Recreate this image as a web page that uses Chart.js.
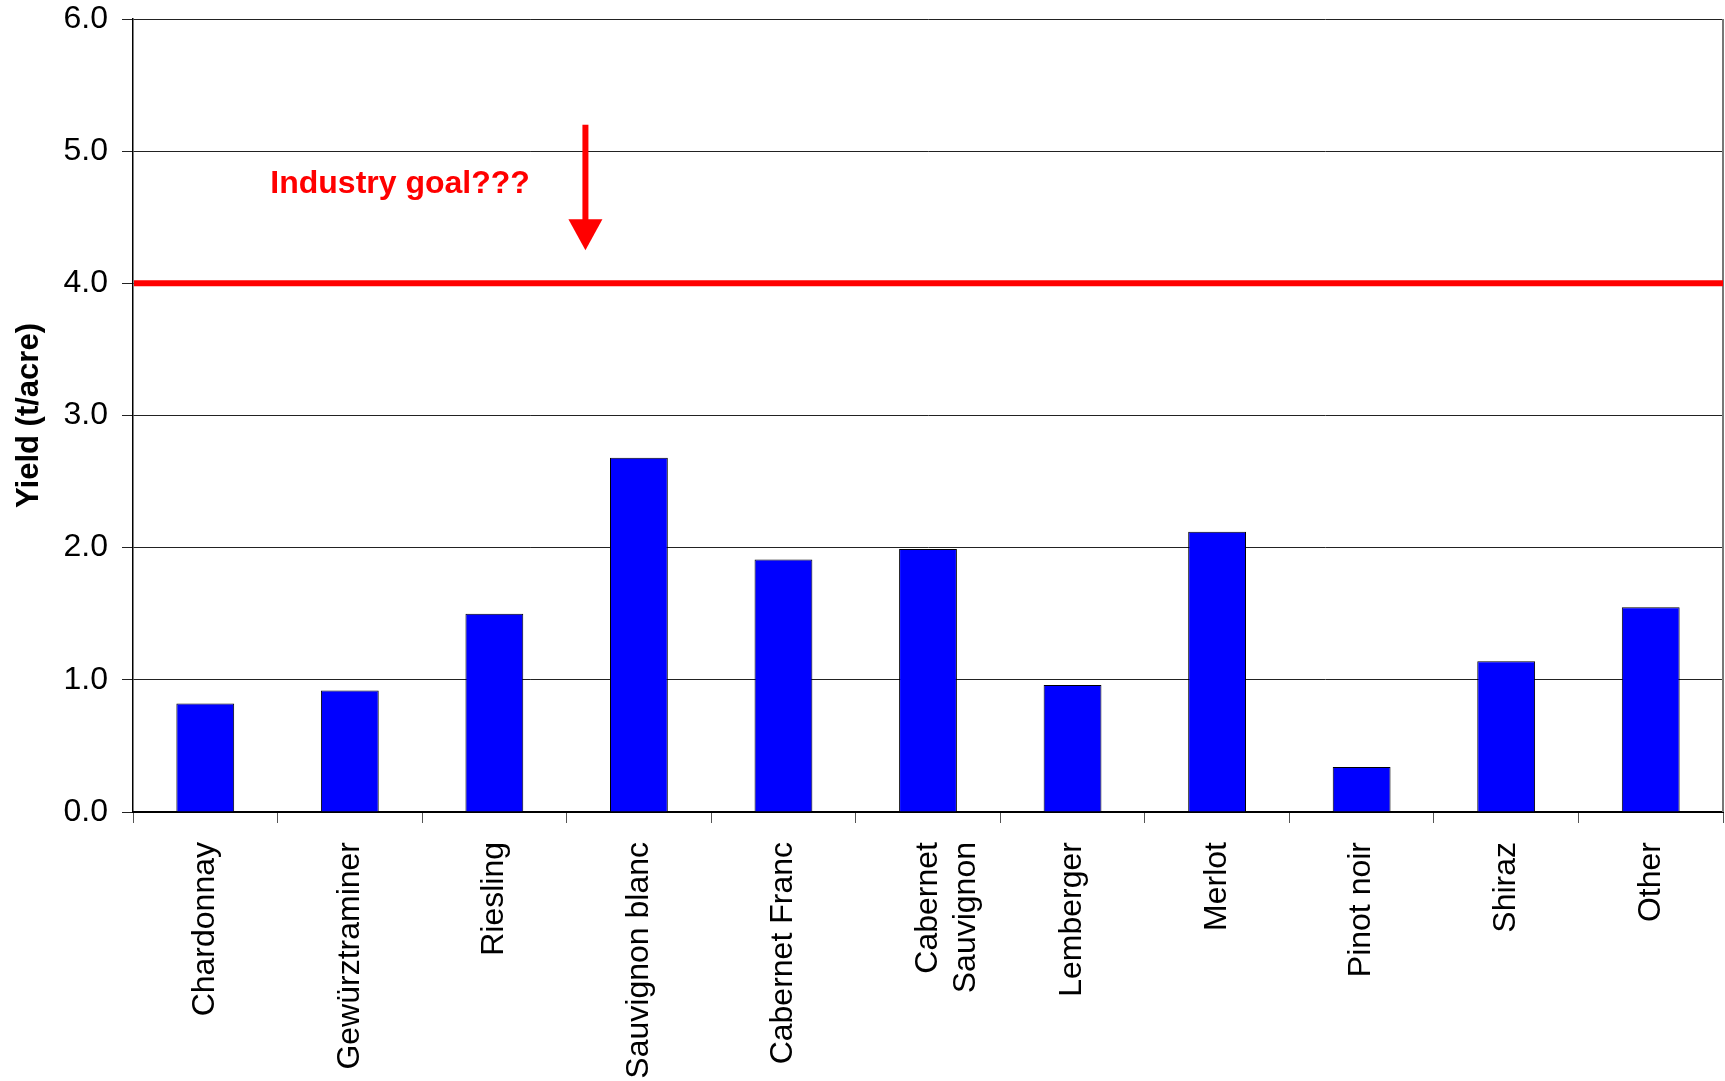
<!DOCTYPE html>
<html lang="en">
<head>
    <meta charset="UTF-8">
    <title>Yield by variety</title>
    <script src="https://cdn.jsdelivr.net/npm/chart.js"></script>
    <style>
        body {
            margin: 0;
            background: #fff;
        }
        .container {
            width: 1725px;
            height: 1081px;
        }
    </style>
</head>
<body>

    <div class="container">
        <canvas id="yieldChart"></canvas>
    </div>

    <script>
        // varieties, with Cabernet Sauvignon split over two lines as in the original
        const varieties = ["Chardonnay", "Gewürztraminer", "Riesling", "Sauvignon blanc", "Cabernet Franc",
            ["Cabernet", "Sauvignon"], "Lemberger", "Merlot", "Pinot noir", "Shiraz", "Other"];
        const yields = [0.82, 0.92, 1.50, 2.68, 1.91, 1.99, 0.96, 2.12, 0.34, 1.14, 1.55];

        const goalValue = 4.0;
        const goalText = "Industry goal???";
        // where the note and arrow sit, in category index / yield units
        const notePos = { x: 0.45, y: 4.75 };
        const arrowFrom = { x: 2.63, y: 5.2 };
        const arrowTo = { x: 2.63, y: 4.25 };

        const fontFamily = "'Liberation Sans', Arial, sans-serif";

        const goalPlugin = {
            id: "goal",
            afterDatasetsDraw(chart) {
                const { ctx, chartArea, scales } = chart;
                const x = scales.x, y = scales.y;
                ctx.save();

                // right frame line
                ctx.strokeStyle = "#777";
                ctx.lineWidth = 2;
                ctx.beginPath();
                ctx.moveTo(chartArea.right, chartArea.top);
                ctx.lineTo(chartArea.right, chartArea.bottom);
                ctx.stroke();

                // goal line
                const gy = y.getPixelForValue(goalValue);
                ctx.strokeStyle = "#ff0000";
                ctx.lineWidth = 6;
                ctx.beginPath();
                ctx.moveTo(chartArea.left + 1, gy);
                ctx.lineTo(chartArea.right, gy);
                ctx.stroke();

                // note
                ctx.fillStyle = "#ff0000";
                ctx.font = "bold 32px " + fontFamily;
                ctx.textAlign = "left";
                ctx.textBaseline = "middle";
                ctx.fillText(goalText, x.getPixelForValue(notePos.x), y.getPixelForValue(notePos.y));

                // arrow
                const ax = x.getPixelForValue(arrowFrom.x);
                const ay1 = y.getPixelForValue(arrowFrom.y);
                const ay2 = y.getPixelForValue(arrowTo.y);
                ctx.lineWidth = 6;
                ctx.beginPath();
                ctx.moveTo(ax, ay1);
                ctx.lineTo(ax, ay2 - 25);
                ctx.stroke();
                ctx.beginPath();
                ctx.moveTo(ax - 17, ay2 - 31);
                ctx.lineTo(ax + 17, ay2 - 31);
                ctx.lineTo(ax, ay2);
                ctx.closePath();
                ctx.fill();

                ctx.restore();
            }
        };

        const ctx = document.getElementById("yieldChart").getContext("2d");
        new Chart(ctx, {
            type: "bar",
            data: {
                labels: varieties,
                datasets: [{
                    label: "Yield",
                    data: yields,
                    backgroundColor: "#0000ff",
                    borderColor: "#000",
                    borderWidth: 1,
                    categoryPercentage: 1,
                    barPercentage: 0.4
                }]
            },
            options: {
                responsive: true,
                maintainAspectRatio: false,
                animation: false,
                layout: {
                    padding: { top: 19, right: 2, left: 0, bottom: 0 }
                },
                plugins: {
                    legend: { display: false },
                    tooltip: { enabled: false }
                },
                scales: {
                    x: {
                        afterFit: s => { s.height = 269; },
                        grid: {
                            drawOnChartArea: false,
                            drawTicks: true,
                            tickLength: 11,
                            color: "#555",
                            offset: true
                        },
                        border: { display: true, color: "#000", width: 2 },
                        ticks: {
                            autoSkip: false,
                            maxRotation: 90,
                            minRotation: 90,
                            padding: 19,
                            color: "#000",
                            font: { family: fontFamily, size: 32 }
                        }
                    },
                    y: {
                        min: 0,
                        max: 6,
                        afterFit: s => {
                            s.width = 133;
                            // the tick padding would otherwise push the plot down
                            s.paddingTop = 0;
                            s.paddingBottom = 0;
                        },
                        grid: {
                            color: "#222",
                            lineWidth: 1,
                            tickLength: 11
                        },
                        border: { display: true, color: "#000", width: 1.5 },
                        ticks: {
                            stepSize: 1,
                            padding: 14,
                            color: "#000",
                            font: { family: fontFamily, size: 32 },
                            callback: v => v.toFixed(1)
                        },
                        title: {
                            display: true,
                            text: "Yield (t/acre)",
                            color: "#000",
                            padding: { top: 11, bottom: 0 },
                            font: { family: fontFamily, size: 31, weight: "bold" }
                        }
                    }
                }
            },
            plugins: [goalPlugin]
        });
    </script>

</body>
</html>
